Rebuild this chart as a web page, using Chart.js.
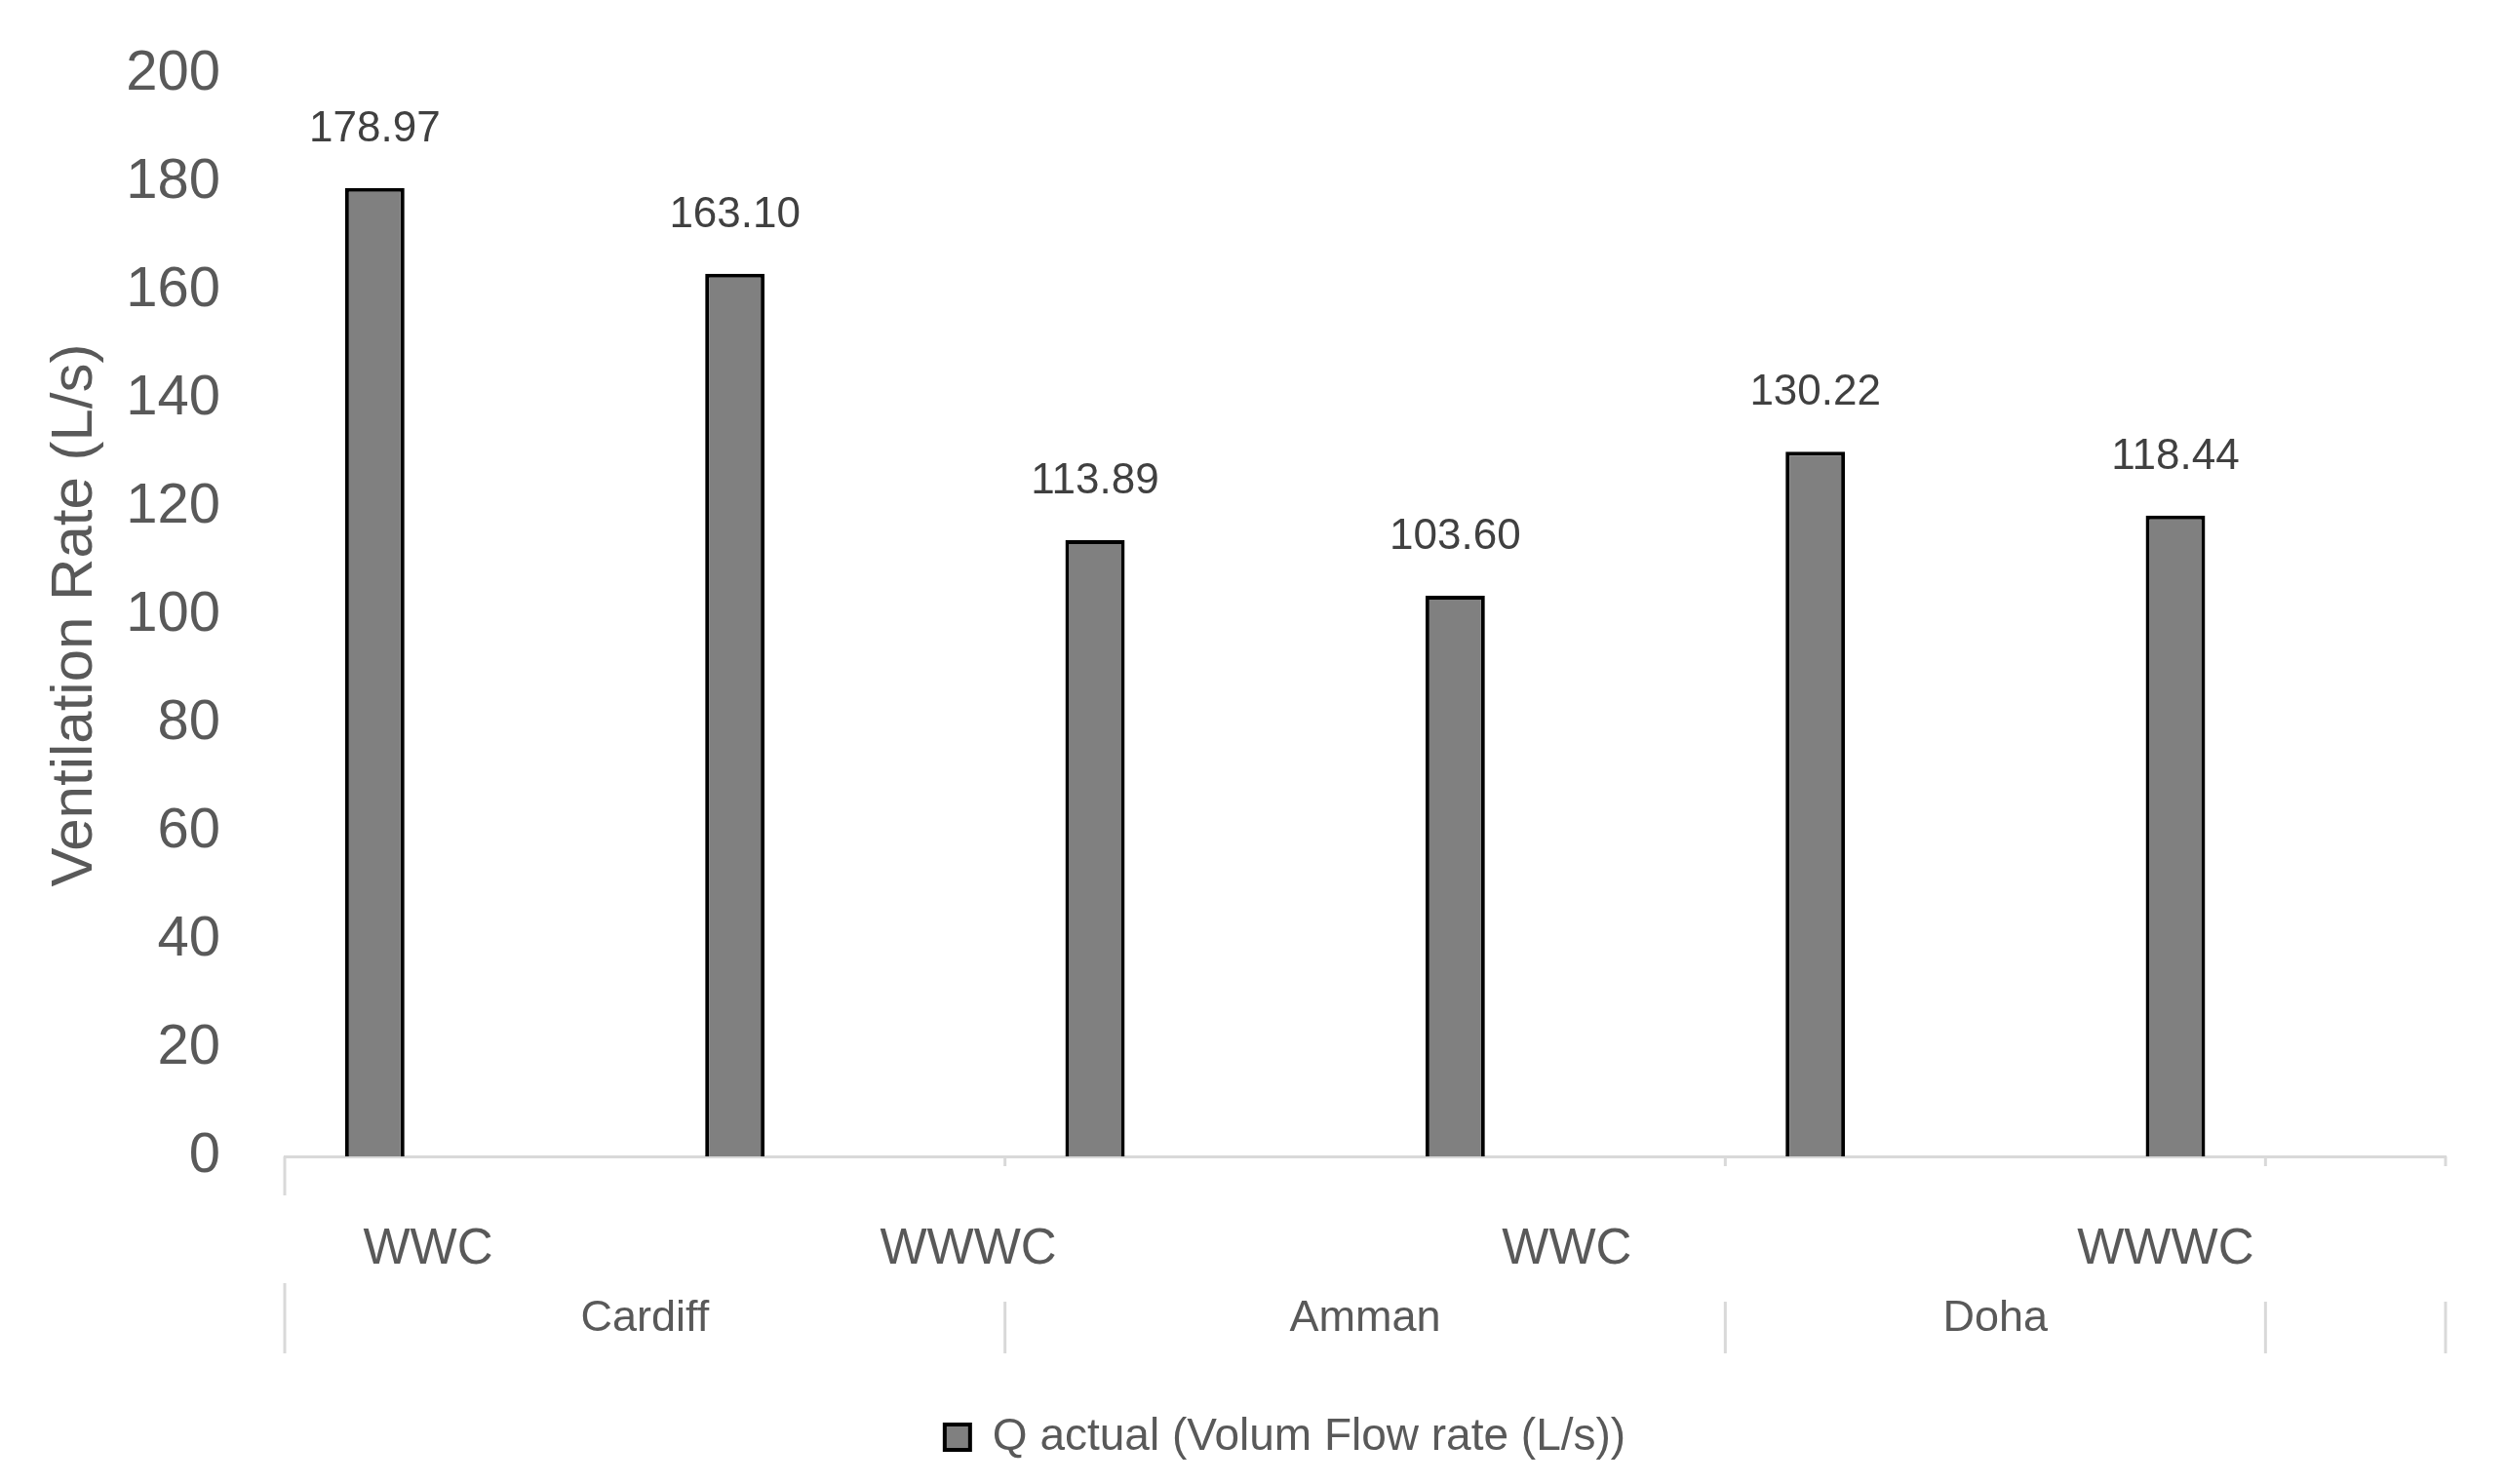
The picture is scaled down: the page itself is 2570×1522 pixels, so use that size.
<!DOCTYPE html>
<html><head><meta charset="utf-8">
<script src="https://cdn.jsdelivr.net/npm/chart.js@4.4.0/dist/chart.umd.min.js"></script>
<style>html,body{margin:0;padding:0;background:#fff;}</style>
</head><body>
<canvas id="c" width="2570" height="1522"></canvas>
<script>
// ---- data ----
const slotLabels = ['Cardiff WWC','','Cardiff WWWC','','Amman WWC','','Amman WWWC','','Doha WWC','','Doha WWWC',''];
const flowRates = [178.97, null, 163.10, null, 113.89, null, 103.60, null, 130.22, null, 118.44, null];
const tickLabels = ['WWC','WWWC','WWC','WWWC'];
const groupNames = ['Cardiff','Amman','Doha',''];
const groupSizes = [4, 4, 3, 1];
const seriesName = 'Q actual (Volum Flow rate (L/s))';
const axisTitle = 'Ventilation Rate (L/s)';

const FONT = "'Liberation Sans', Arial, sans-serif";
Chart.defaults.font.family = FONT;
Chart.defaults.color = '#595959';

const xLabelsPlugin = {
  id: 'xLabels',
  afterDraw(chart, args, opts) {
    const x = chart.scales.x, ctx = chart.ctx;
    const base = chart.chartArea.bottom;
    const bounds = [-0.5];
    groupSizes.forEach(s => bounds.push(bounds[bounds.length - 1] + s));
    ctx.save();
    ctx.strokeStyle = '#d9d9d9';
    ctx.lineWidth = 3;
    bounds.forEach((v, i) => {
      const px = x.getPixelForValue(v);
      ctx.beginPath(); ctx.moveTo(px, base); ctx.lineTo(px, base + (i === 0 ? 40 : 10)); ctx.stroke();
      ctx.beginPath(); ctx.moveTo(px, base + (i === 0 ? 130 : 149)); ctx.lineTo(px, base + 202); ctx.stroke();
    });
    ctx.fillStyle = '#595959';
    ctx.textAlign = 'center';
    ctx.textBaseline = 'middle';
    ctx.font = '51px ' + FONT;
    tickLabels.forEach((t, i) => ctx.fillText(t, x.getPixelForValue(opts.tickSlots[i]), base + 96));
    ctx.font = '45px ' + FONT;
    groupNames.forEach((g, i) => {
      const px = (x.getPixelForValue(bounds[i]) + x.getPixelForValue(bounds[i + 1])) / 2;
      ctx.fillText(g, px, base + 167);
    });
    ctx.restore();
  }
};

const dataLabelPlugin = {
  id: 'dataLabels',
  afterDatasetsDraw(chart) {
    const ctx = chart.ctx;
    const meta = chart.getDatasetMeta(0);
    ctx.save();
    ctx.fillStyle = '#404040';
    ctx.textAlign = 'center';
    ctx.textBaseline = 'middle';
    ctx.font = '44px ' + FONT;
    meta.data.forEach((bar, i) => {
      const v = flowRates[i];
      if (v === null) return;
      ctx.fillText(v.toFixed(2), bar.x, bar.y - 60);
    });
    ctx.restore();
  }
};

const legendShift = {
  id: 'legendShift',
  afterLayout(chart) {
    const l = chart.legend;
    if (l) { l.left += 64; l.right += 64; }
  }
};

new Chart(document.getElementById('c'), {
  type: 'bar',
  data: {
    labels: slotLabels,
    datasets: [{
      label: seriesName,
      data: flowRates,
      backgroundColor: '#808080',
      borderColor: '#000000',
      borderWidth: 4,
      barPercentage: 0.33,
      categoryPercentage: 1.0
    }]
  },
  options: {
    responsive: false,
    animation: false,
    layout: { padding: { top: 76, right: 62, bottom: 15, left: 0 } },
    plugins: {
      tooltip: { enabled: false },
      legend: {
        position: 'bottom',
        labels: { boxWidth: 26, boxHeight: 26, padding: 10, color: '#595959', font: { size: 46 } }
      },
      xLabels: { tickSlots: [0.296, 3.296, 6.62, 9.945] }
    },
    scales: {
      x: {
        ticks: { display: false },
        grid: { display: false },
        border: { display: true, color: '#d9d9d9', width: 3 },
        afterFit(s) { s.height = 255; s.paddingLeft = 0; s.paddingRight = 0; }
      },
      y: {
        min: 0, max: 200,
        ticks: { stepSize: 20, padding: 58, color: '#595959', font: { size: 58 } },
        grid: { display: false },
        border: { display: false },
        title: { display: true, text: axisTitle, color: '#595959', font: { size: 60 }, padding: { top: 41, bottom: 0 } },
        afterFit(s) { s.width = 292; s.paddingTop = 0; s.paddingBottom = 0; }
      }
    }
  },
  plugins: [xLabelsPlugin, dataLabelPlugin, legendShift]
});
</script>
</body></html>
